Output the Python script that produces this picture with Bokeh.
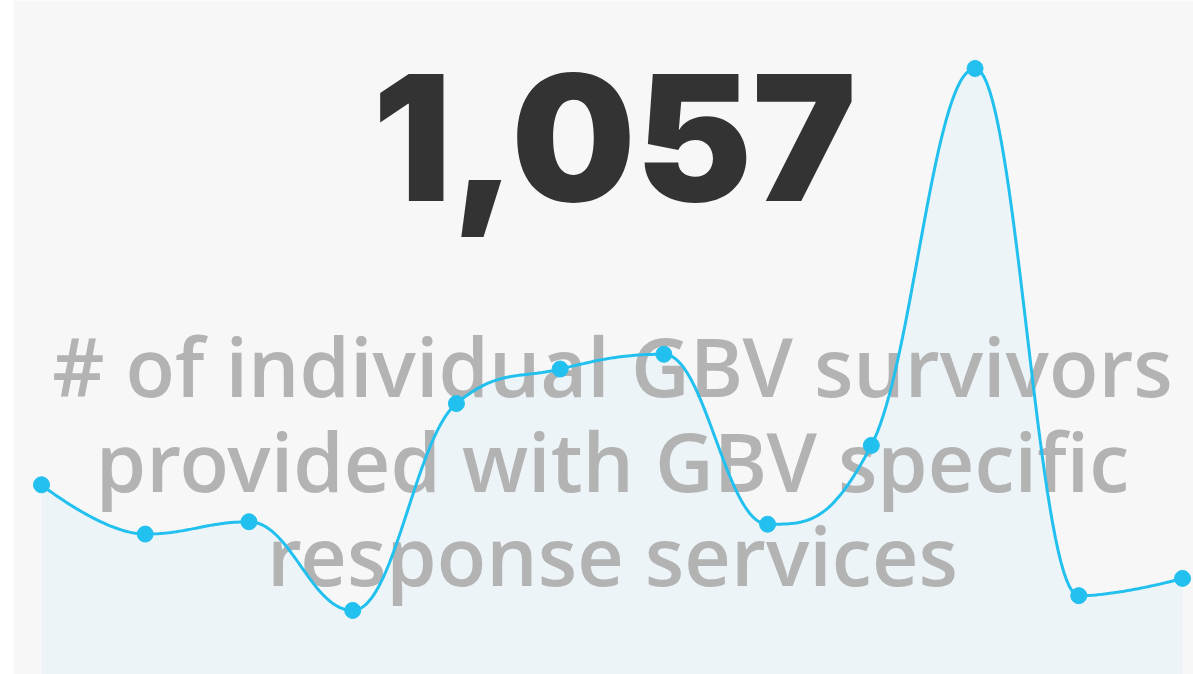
from bokeh.plotting import figure
from bokeh.models import Range1d, Label, ColumnDataSource, GlyphRenderer, Line, Scatter
from bokeh.embed import file_html
from bokeh.resources import INLINE
import numpy as np

# ---- data ----
months = ["Jan", "Feb", "Mar", "Apr", "May", "Jun", "Jul", "Aug", "Sep", "Oct", "Nov", "Dec"]
values = [77, 57, 62, 26, 110, 124, 130, 61, 93, 246, 32, 39]
kpi_text = "1,057"
subtitle_lines = ["# of individual GBV survivors", "provided with GBV specific", "response services"]

LINE = "#22c0ee"
FILL = "#ecf4f8"
BG = "#f7f7f7"

xs = list(range(len(values)))


def spline_curve(px, py, smoothing=1.5):
    n = len(px)
    lc = [(px[i], py[i]) for i in range(n)]
    rc = [(px[i], py[i]) for i in range(n)]
    denom = smoothing + 1
    for i in range(1, n - 1):
        x, y = px[i], py[i]
        lx, ly = px[i - 1], py[i - 1]
        nx, ny = px[i + 1], py[i + 1]
        lcx = (smoothing * x + lx) / denom
        lcy = (smoothing * y + ly) / denom
        rcx = (smoothing * x + nx) / denom
        rcy = (smoothing * y + ny) / denom
        if rcx != lcx:
            corr = ((rcy - lcy) * (rcx - x)) / (rcx - lcx) + y - rcy
            lcy += corr
            rcy += corr
            if lcy > ly and lcy > y:
                lcy = max(ly, y); rcy = 2 * y - lcy
            elif lcy < ly and lcy < y:
                lcy = min(ly, y); rcy = 2 * y - lcy
            if rcy > ny and rcy > y:
                rcy = max(ny, y); lcy = 2 * y - rcy
            elif rcy < ny and rcy < y:
                rcy = min(ny, y); lcy = 2 * y - rcy
        lc[i] = (lcx, lcy)
        rc[i] = (rcx, rcy)
    cx, cy = [], []
    t = np.linspace(0, 1, 40)
    for i in range(1, n):
        p0 = (px[i - 1], py[i - 1]); p1 = rc[i - 1]; p2 = lc[i]; p3 = (px[i], py[i])
        bx = (1 - t) ** 3 * p0[0] + 3 * (1 - t) ** 2 * t * p1[0] + 3 * (1 - t) * t ** 2 * p2[0] + t ** 3 * p3[0]
        by = (1 - t) ** 3 * p0[1] + 3 * (1 - t) ** 2 * t * p1[1] + 3 * (1 - t) * t ** 2 * p2[1] + t ** 3 * p3[1]
        if i > 1:
            bx, by = bx[1:], by[1:]
        cx.extend(bx); cy.extend(by)
    return np.array(cx), np.array(cy)


cx, cy = spline_curve(xs, values)

p = figure(width=1193, height=674, output_backend="svg", toolbar_location=None,
           x_range=Range1d(-0.270, 11.106), y_range=Range1d(0, 273.6),
           min_border_left=13, min_border_right=0, min_border_top=0, min_border_bottom=0)
p.axis.visible = False
p.grid.visible = False
p.outline_line_color = None
p.background_fill_color = BG
p.border_fill_color = "white"

p.varea(x=cx, y1=0, y2=cy, fill_color=FILL, fill_alpha=1.0)

p.add_layout(Label(x=601, y=537, x_units="screen", y_units="screen", text=kpi_text,
                   text_align="center", text_baseline="alphabetic",
                   text_font="Inter Black", text_font_style="normal",
                   text_font_size="175px", text_color="#333333"))

baselines = [309, 214, 120]
for line, by in zip(subtitle_lines, baselines):
    p.add_layout(Label(x=599, y=by, x_units="screen", y_units="screen", text=line,
                       text_align="center", text_baseline="alphabetic",
                       text_font="Open Sans SemiBold", text_font_style="normal",
                       text_font_size="81px", text_color="#b3b3b3"))

# line and markers drawn above the text
src = ColumnDataSource(dict(x=xs, y=values, month=months))
line_src = ColumnDataSource(dict(x=cx, y=cy))
lr = GlyphRenderer(data_source=line_src, glyph=Line(x="x", y="y", line_color=LINE, line_width=3), level="overlay")
sr = GlyphRenderer(data_source=src, glyph=Scatter(x="x", y="y", size=16, fill_color=LINE, line_color=LINE), level="overlay")
p.renderers.extend([lr, sr])

open("out.html", "w").write(file_html(p, INLINE))
